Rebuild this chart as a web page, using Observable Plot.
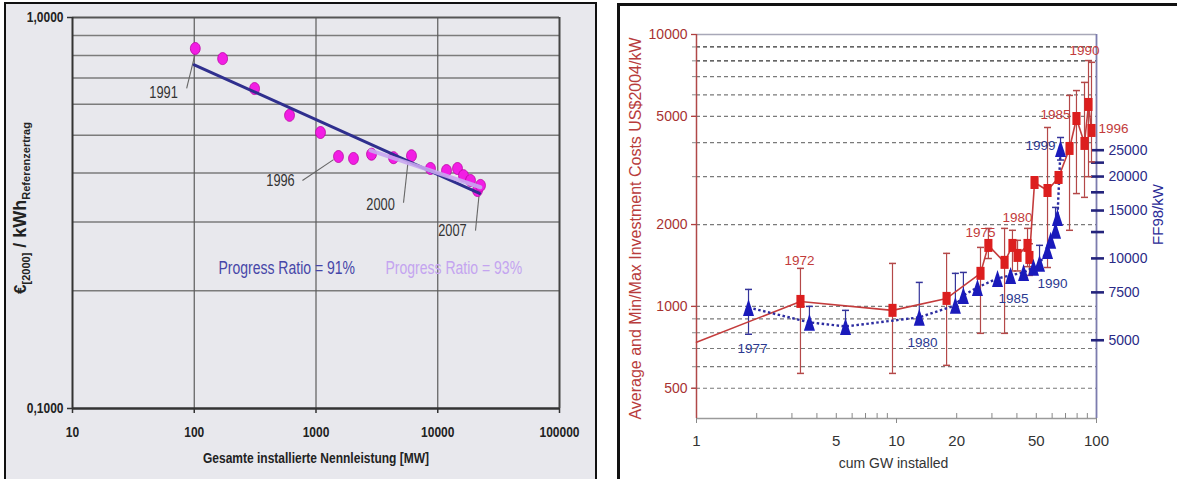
<!DOCTYPE html>
<html>
<head>
<meta charset="utf-8">
<script src="https://cdn.jsdelivr.net/npm/d3@7"></script>
<script src="https://cdn.jsdelivr.net/npm/@observablehq/plot@0.6"></script>
<style>
  html, body { margin: 0; padding: 0; }
  body { width: 1177px; height: 479px; position: relative; overflow: hidden; background: #ffffff; }
  #lp { position: absolute; left: 4px; top: 2px; width: 593px; height: 482px; border: 2px solid #111; background: #e8e8ed; box-sizing: border-box; }
  #rp { position: absolute; left: 617px; top: 3px; width: 565px; height: 482px; border: 3px solid #111; background: #fff; box-sizing: border-box; }
  #c1 { position: absolute; left: 0; top: 0; width: 600px; height: 479px; }
  #c2 { position: absolute; left: 620px; top: 0; width: 557px; height: 479px; }
</style>
</head>
<body>
<div id="lp"></div>
<div id="rp"></div>
<div id="c1"></div>
<div id="c2"></div>
<script>
// ================= LEFT CHART DATA =================
const capacityMW = [102, 171, 313, 606, 1089, 1530, 2032, 2858, 4333, 6085, 8716, 11800, 14530, 16270, 18580, 21200, 22440];
const costEuroPerKWh = [0.833, 0.785, 0.658, 0.562, 0.508, 0.441, 0.436, 0.447, 0.438, 0.443, 0.411, 0.406, 0.411, 0.394, 0.383, 0.361, 0.372];
const fit91MW = [100, 22030];
const fit91Cost = [0.757, 0.355];
const fit93MW = [2800, 22400];
const fit93Cost = [0.457, 0.368];
const leftXTicks = [10, 100, 1000, 10000, 100000];
const leftXTickLabels = ["10", "100", "1000", "10000", "100000"];
const leftYTicks = [0.1, 1];
const leftYTickLabels = ["0,1000", "1,0000"];
const leftYGrid = [0.2, 0.3, 0.4, 0.5, 0.6, 0.7, 0.8, 0.9];
const leftXGrid = [100, 1000, 10000];
// year annotations (data units)
const yearLabels = ["1991", "1996", "2000", "2007"];
const yearLabelMW = [56, 511, 3388, 13210];
const yearLabelCost = [0.643, 0.383, 0.332, 0.284];
const leaderPointMW = [101, 1393, 5750, 22030];
const leaderPointCost = [0.80, 0.433, 0.438, 0.361];
const leaderLabelMW = [86.6, 774, 5234, 20420];
const leaderLabelCost = [0.659, 0.383, 0.336, 0.285];
const ratioLabels = ["Progress Ratio = 91%", "Progress Ratio = 93%"];
const ratioMW = [158, 3724];
const ratioCost = [0.228, 0.228];

// ================= RIGHT CHART DATA =================
const redStartGW = [1];
const redStartCost = [738];
const redGW   = [3.31, 9.55, 17.8, 26.3, 28.8, 34.7, 38.0, 40.3, 45.2, 46.2, 49.0, 56.9, 64.6, 73.3, 79.4, 87.1, 91.2, 94.4];
const redAvg  = [1043, 967, 1070, 1323, 1676, 1452, 1676, 1540, 1676, 1514, 2856, 2668, 2980, 3810, 4910, 3975, 5530, 4437];
const redMin  = [567, 567, 607, 796, 1500, 796, 1350, 1350, 1400, 1300, null, 1390, null, 1905, 2600, 2518, 3000, 3400];
const redMax  = [1380, 1439, 1567, 1648, 1936, 1936, 1905, 1750, 1936, 1700, null, 4550, null, 5970, 6220, 6665, 8020, 7900];
const blueGW  = [1.82, 3.67, 5.56, 13.0, 19.7, 21.6, 25.4, 32.0, 37.2, 43.2, 48.4, 51.9, 56.9, 59.0, 62.4, 63.8, 66.1];
const blueFF  = [6600, 5820, 5620, 6070, 6720, 7310, 7820, 8440, 8660, 8880, 9270, 9590, 10700, 11650, 12680, 14150, 25370];
const blueMin = [5260, 5500, 5450, 5800, 6400, 7000, null, null, null, null, null, 9300, null, null, 12000, null, 23000];
const blueMax = [7690, 6660, 6440, 8160, 8810, 8880, null, null, null, null, null, 11170, null, null, 15400, null, 27840];
const ffPerUsd = 6.66; // right axis (FF98/kW) relative to left axis (US$2004/kW)
const usdTicks = [500, 1000, 2000, 5000, 10000];
const usdTickLabels = ["500", "1000", "2000", "5000", "10000"];
const usdGrid = [500, 600, 700, 800, 900, 1000, 2000, 3000, 4000, 5000, 6000, 7000, 8000, 9000];
const ffTicks = [5000, 7500, 10000, 12500, 15000, 17500, 20000, 22500, 25000];
const ffLabeled = [5000, 7500, 10000, 15000, 20000, 25000];
const ffLabels = ["5000", "7500", "10000", "15000", "20000", "25000"];
const gwTicks = [1, 5, 10, 20, 50, 100];
const gwTickLabels = ["1", "5", "10", "20", "50", "100"];
const gwDecades = [1, 10, 100];
const gwMinor = [2, 3, 4, 5, 6, 7, 8, 9, 20, 30, 40, 50, 60, 70, 80, 90];
const redYears = ["1972", "1975", "1980", "1985", "1990", "1996"];
const redYearGW = [3.27, 26.3, 40.3, 62.4, 87.1, 121.6];
const redYearCost = [1476, 1872, 2124, 5080, 8730, 4510];
const blueYears = ["1977", "1980", "1985", "1990", "1999"];
const blueYearGW = [1.905, 13.5, 38.5, 60.3, 52.5];
const blueYearFF = [4670, 4910, 7130, 8090, 26030];

// ================= helpers =================
const SANS = "'Liberation Sans',Arial,Helvetica,sans-serif";
const rad = s => Math.sqrt(s / Math.PI);
const ellipseSym = { draw(c, s) { const r = rad(s), rx = r * 0.82, ry = r, k = 0.5523;
  c.moveTo(rx, 0); c.bezierCurveTo(rx, k * ry, k * rx, ry, 0, ry); c.bezierCurveTo(-k * rx, ry, -rx, k * ry, -rx, 0);
  c.bezierCurveTo(-rx, -k * ry, -k * rx, -ry, 0, -ry); c.bezierCurveTo(k * rx, -ry, rx, -k * ry, rx, 0); c.closePath(); } };
const rectSym = { draw(c, s) { const r = rad(s), w = r * 1.25, h = r * 2; c.rect(-w / 2, -h / 2, w, h); } };
const triSym = { draw(c, s) { const r = rad(s), w = r * 1.3, h = r * 2; c.moveTo(0, -h / 2); c.lineTo(w / 2, h / 2); c.lineTo(-w / 2, h / 2); c.closePath(); } };
const capSym = { draw(c, s) { const r = rad(s); c.moveTo(-r, 0); c.lineTo(r, 0); } };
// label lookup tolerant to float rounding
const labelFor = (vals, labels) => d => {
  let best = 0, bd = Infinity;
  vals.forEach((v, i) => { const e = Math.abs(Math.log(v) - Math.log(d)); if (e < bd) { bd = e; best = i; } });
  return labels[best];
};
// narrow (Arial Narrow–like) look: compress glyphs horizontally
function condense(svg, factor) {
  svg.querySelectorAll("text").forEach(t => {
    if (t.getAttribute("data-keep")) return;
    const len = t.getComputedTextLength();
    if (len > 0) { t.setAttribute("textLength", (len * factor).toFixed(2)); t.setAttribute("lengthAdjust", "spacingAndGlyphs"); }
  });
}

// ================= LEFT CHART =================
const leftPoints = capacityMW.map((x, i) => ({ x, y: costEuroPerKWh[i] }));
const fit91 = fit91MW.map((x, i) => ({ x, y: fit91Cost[i] }));
const fit93 = fit93MW.map((x, i) => ({ x, y: fit93Cost[i] }));
const years = yearLabels.map((t, i) => ({ t, x: yearLabelMW[i], y: yearLabelCost[i],
  x1: leaderPointMW[i], y1: leaderPointCost[i], x2: leaderLabelMW[i], y2: leaderLabelCost[i] }));
const ratios = ratioLabels.map((t, i) => ({ t, x: ratioMW[i], y: ratioCost[i] }));

const chart1 = Plot.plot({
  width: 600, height: 479,
  marginLeft: 72, marginRight: 41, marginTop: 17, marginBottom: 71,
  style: { background: "transparent", fontFamily: SANS, overflow: "visible" },
  x: { type: "log", domain: [10, 100000] },
  y: { type: "log", domain: [0.1, 1] },
  marks: [
    Plot.ruleY(leftYGrid, { stroke: "#7b7b7b", strokeWidth: 1.5 }),
    Plot.ruleX(leftXGrid, { stroke: "#5c5c5c", strokeWidth: 1.2 }),
    Plot.ruleY([1], { stroke: "#555", strokeWidth: 2 }),
    Plot.ruleX([100000], { stroke: "#444", strokeWidth: 2 }),
    Plot.ruleY([0.1], { stroke: "#333", strokeWidth: 2.5 }),
    Plot.ruleX([10], { stroke: "#333", strokeWidth: 2 }),
    Plot.axisX({ ticks: leftXTicks, tickFormat: labelFor(leftXTicks, leftXTickLabels), tickSize: 5, tickPadding: 13, fontSize: 15, fontWeight: "bold", fill: "#222", stroke: "#333", strokeWidth: 1.5, label: null }),
    Plot.axisY({ ticks: leftYTicks, tickFormat: labelFor(leftYTicks, leftYTickLabels), tickSize: 5, tickPadding: 4, fontSize: 15, fontWeight: "bold", fill: "#222", stroke: "#333", strokeWidth: 1.5, label: null }),
    Plot.link(years, { x1: "x1", y1: "y1", x2: "x2", y2: "y2", stroke: "#666", strokeWidth: 1.1 }),
    Plot.text(years, { x: "x", y: "y", text: "t", fontSize: 16, fill: "#333" }),
    Plot.dot(leftPoints, { x: "x", y: "y", symbol: ellipseSym, r: 6, fill: "#f21ee4", stroke: "#b8009f", strokeWidth: 0.8 }),
    Plot.line(fit91, { x: "x", y: "y", stroke: "#2f2f8e", strokeWidth: 3 }),
    Plot.line(fit93, { x: "x", y: "y", stroke: "#c8a6f0", strokeWidth: 4, strokeOpacity: 0.9 }),
    Plot.text(ratios.slice(0, 1), { x: "x", y: "y", text: "t", textAnchor: "start", fontSize: 17.5, fill: "#4646a8" }),
    Plot.text(ratios.slice(1), { x: "x", y: "y", text: "t", textAnchor: "start", fontSize: 17.5, fill: "#c4a4f0" }),
    Plot.text(["Gesamte installierte Nennleistung [MW]"], { frameAnchor: "bottom", textAnchor: "middle", dy: 54, text: d => d, fontSize: 15, fontWeight: "bold", fill: "#222" })
  ]
});
document.getElementById("c1").appendChild(chart1);
condense(chart1, 0.8);
{
  const t = d3.select(chart1).append("text")
    .attr("data-keep", "1")
    .attr("transform", "translate(26,208) rotate(-90)")
    .attr("text-anchor", "middle").attr("font-family", SANS).attr("font-weight", "bold").attr("fill", "#222");
  t.append("tspan").attr("font-size", 17).text("€");
  t.append("tspan").attr("font-size", 11).attr("dy", 4).text("[2000]");
  t.append("tspan").attr("font-size", 18).attr("dy", -4).text(" / kWh");
  t.append("tspan").attr("font-size", 11).attr("dy", 4).text("Referenzertrag");
}

// ================= RIGHT CHART =================
const redLine = redStartGW.map((x, i) => ({ x, y: redStartCost[i] }))
  .concat(redGW.map((x, i) => ({ x, y: redAvg[i] })));
const redPts = redGW.map((x, i) => ({ x, y: redAvg[i], lo: redMin[i], hi: redMax[i] }));
const redBars = redPts.filter(d => d.lo != null);
const bluePts = blueGW.map((x, i) => ({ x, y: blueFF[i] / ffPerUsd, lo: blueMin[i] == null ? null : blueMin[i] / ffPerUsd, hi: blueMax[i] == null ? null : blueMax[i] / ffPerUsd }));
const blueBars = bluePts.filter(d => d.lo != null);
const redLbl = redYears.map((t, i) => ({ t, x: redYearGW[i], y: redYearCost[i] }));
const blueLbl = blueYears.map((t, i) => ({ t, x: blueYearGW[i], y: blueYearFF[i] / ffPerUsd }));
const ffAxis = ffLabeled.map((v, i) => ({ y: v / ffPerUsd, t: ffLabels[i] }));
const X2 = [1, 100], Y2 = [387, 10000];
const BLUE = "#2a2a86";

const chart2 = Plot.plot({
  width: 557, height: 479,
  marginLeft: 76, marginRight: 81, marginTop: 34, marginBottom: 61,
  style: { background: "transparent", fontFamily: SANS, overflow: "visible" },
  x: { type: "log", domain: X2 },
  y: { type: "log", domain: Y2 },
  marks: [
    Plot.ruleY(usdGrid.filter(v => v < 8000), { stroke: "#7a7a7a", strokeWidth: 1.2, strokeDasharray: "4,3" }),
    Plot.ruleY(usdGrid.filter(v => v >= 8000), { stroke: "#333", strokeWidth: 1.3, strokeDasharray: "4,3" }),
    Plot.ruleY([Y2[1]], { stroke: "#a8a8b8", strokeWidth: 1.5 }),
    Plot.ruleY([Y2[0]], { stroke: "#9a9a9a", strokeWidth: 1.5 }),
    Plot.ruleX([X2[1]], { stroke: "#7c7cae", strokeWidth: 1.8 }),
    Plot.ruleX([X2[0]], { stroke: "#b04848", strokeWidth: 1.5 }),
    Plot.axisY({ ticks: usdGrid, tickSize: 4, tickFormat: () => "", stroke: "#888", label: null }),
    Plot.axisY({ ticks: usdTicks, tickFormat: labelFor(usdTicks, usdTickLabels), tickSize: 5, tickPadding: 4, fontSize: 14, fill: "#a83232", stroke: "#b04040", strokeWidth: 1.3, label: null }),
    Plot.axisY({ anchor: "right", ticks: ffTicks.map(v => v / ffPerUsd), tickSize: 13, dx: -6, tickFormat: () => "", stroke: "#23237c", strokeWidth: 2.6, label: null }),
    Plot.text(ffAxis, { y: "y", text: "t", frameAnchor: "right", textAnchor: "start", dx: 12, fontSize: 14, fill: BLUE }),
    Plot.axisX({ ticks: gwMinor, tickSize: 5, dy: -5, tickFormat: () => "", stroke: "#888", label: null }),
    Plot.axisX({ ticks: gwDecades, tickSize: 5, tickFormat: () => "", stroke: "#888", label: null }),
    Plot.axisX({ ticks: gwTicks, tickSize: 0, tickPadding: 17, tickFormat: labelFor(gwTicks, gwTickLabels), fontSize: 15, fill: "#333", label: null }),
    // error bars
    Plot.ruleX(redBars, { x: "x", y1: "lo", y2: "hi", stroke: "#b44848", strokeWidth: 1.2 }),
    Plot.dot(redBars, { x: "x", y: "hi", symbol: capSym, r: 3.5, stroke: "#b44848", strokeWidth: 1.5, fill: "none" }),
    Plot.dot(redBars, { x: "x", y: "lo", symbol: capSym, r: 3.5, stroke: "#b44848", strokeWidth: 1.5, fill: "none" }),
    Plot.ruleX(blueBars, { x: "x", y1: "lo", y2: "hi", stroke: "#34349a", strokeWidth: 1.2 }),
    Plot.dot(blueBars, { x: "x", y: "hi", symbol: capSym, r: 3.5, stroke: "#34349a", strokeWidth: 1.5, fill: "none" }),
    Plot.dot(blueBars, { x: "x", y: "lo", symbol: capSym, r: 3.5, stroke: "#34349a", strokeWidth: 1.5, fill: "none" }),
    // series
    Plot.line(redLine, { x: "x", y: "y", stroke: "#c43c3c", strokeWidth: 1.6 }),
    Plot.line(bluePts, { x: "x", y: "y", stroke: "#2c2ca0", strokeWidth: 2.4, strokeDasharray: "2.5,2.5", strokeLinecap: "butt" }),
    Plot.dot(redPts, { x: "x", y: "y", symbol: rectSym, r: 6.5, fill: "#dc1e1e", stroke: "none" }),
    Plot.dot(bluePts, { x: "x", y: "y", symbol: triSym, r: 8.5, fill: "#1a1abb", stroke: "none" }),
    // labels
    Plot.text(redLbl, { x: "x", y: "y", text: "t", fontSize: 13.5, fill: "#c23b3b" }),
    Plot.text(blueLbl, { x: "x", y: "y", text: "t", fontSize: 13.5, fill: "#2b3990" }),
    Plot.text(["Average and Min/Max Investment Costs US$2004/kW"], { frameAnchor: "left", textAnchor: "middle", dx: -61, dy: 2, rotate: -90, text: d => d, fontSize: 16, fill: "#b83c3c" }),
    Plot.text(["FF98/kW"], { frameAnchor: "right", textAnchor: "middle", dx: 62, dy: -12, rotate: -90, text: d => d, fontSize: 15, fill: "#2a2a96" }),
    Plot.text(["cum GW installed"], { frameAnchor: "bottom", textAnchor: "middle", dx: -3, dy: 49, text: d => d, fontSize: 14, fill: "#333" })
  ]
});
document.getElementById("c2").appendChild(chart2);
</script>
</body>
</html>
